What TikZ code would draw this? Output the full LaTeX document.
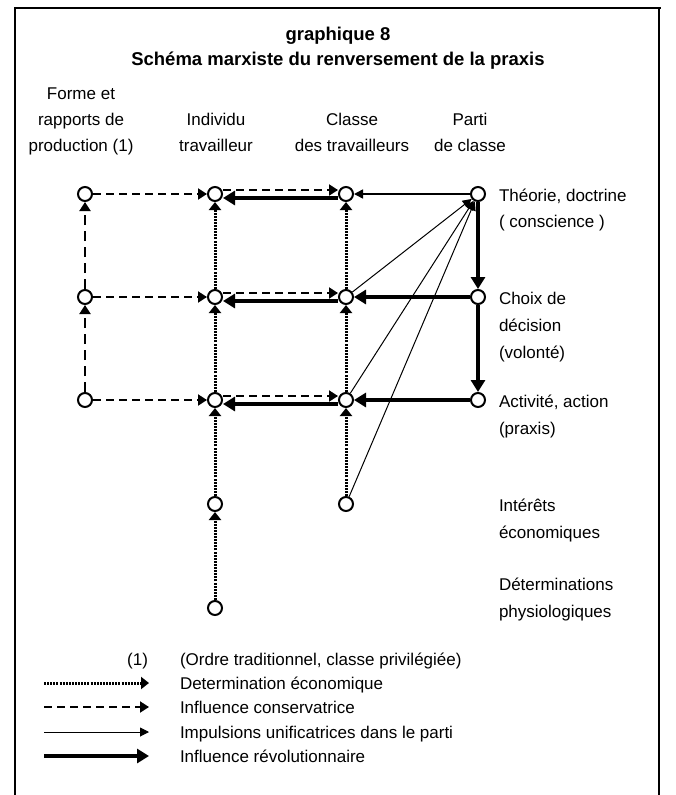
\documentclass[tikz,border=0pt]{standalone}
\usepackage{fontspec}
\setmainfont{Liberation Sans}
\usetikzlibrary{arrows.meta}

\tikzset{
  lbl/.style={font=\fontsize{17}{20}\selectfont, inner sep=0pt, outer sep=0pt},
  ttl/.style={font=\fontsize{18.5}{22}\selectfont\bfseries, inner sep=0pt, outer sep=0pt},
  stage/.style={circle, draw, line width=2pt, fill=white, minimum size=14pt, inner sep=0pt},
  frameline/.style={line width=2.2pt},
  detarr/.style={line width=3pt, dash pattern=on 2pt off 1.1pt,
    -{Triangle[length=8pt,width=12pt]}},
  conarr/.style={line width=2pt, dash pattern=on 8pt off 5pt,
    -{Triangle[length=9pt,width=11pt]}},
  longdash/.style={dash pattern=on 10pt off 6pt},
  imparr/.style={line width=1pt, -{Triangle[length=9pt,width=9pt]}},
  revarr/.style={line width=3.6pt, -{Triangle[length=12pt,width=14pt]}},
}

\begin{document}
\begin{tikzpicture}[x=1pt,y=-1pt]
\useasboundingbox (0,0) rectangle (675,795);

% frame (open at the bottom)
\coordinate (fbl) at (15,795);
\coordinate (ftl) at (15,8);
\coordinate (ftr) at (661,8);
\coordinate (frt) at (659,8);
\coordinate (frb) at (659,795);
\draw[frameline] (fbl) -- (ftl) -- (ftr);
\draw[frameline] (frt) -- (frb);

% title
\node[ttl, anchor=base] (title1) at (338,40) {graphique 8};
\node[ttl, anchor=base] (title2) at (338,65) {Schéma marxiste du renversement de la praxis};

% column headings
\node[lbl, anchor=base] (h1a) at (81,99) {Forme et};
\node[lbl, anchor=base] (h1b) at (81,125) {rapports de};
\node[lbl, anchor=base] (h1c) at (81,151) {production (1)};
\node[lbl, anchor=base] (h2a) at (216,125) {Individu};
\node[lbl, anchor=base] (h2b) at (216,151) {travailleur};
\node[lbl, anchor=base] (h3a) at (352,125) {Classe};
\node[lbl, anchor=base] (h3b) at (352,151) {des travailleurs};
\node[lbl, anchor=base] (h4a) at (470,125) {Parti};
\node[lbl, anchor=base] (h4b) at (470,151) {de classe};

% row labels
\node[lbl, anchor=base west] (r1a) at (499,201) {Théorie, doctrine};
\node[lbl, anchor=base west] (r1b) at (499,227) {( conscience )};
\node[lbl, anchor=base west] (r2a) at (499,304) {Choix de};
\node[lbl, anchor=base west] (r2b) at (499,331) {décision};
\node[lbl, anchor=base west] (r2c) at (499,358) {(volonté)};
\node[lbl, anchor=base west] (r3a) at (499,407) {Activité, action};
\node[lbl, anchor=base west] (r3b) at (499,434) {(praxis)};
\node[lbl, anchor=base west] (r4a) at (499,511) {Intérêts};
\node[lbl, anchor=base west] (r4b) at (499,538) {économiques};
\node[lbl, anchor=base west] (r5a) at (499,590) {Déterminations};
\node[lbl, anchor=base west] (r5b) at (499,617) {physiologiques};

% stages
\node[stage] (c1r1) at (85,194) {};
\node[stage] (c1r2) at (85,297) {};
\node[stage] (c1r3) at (85,400) {};
\node[stage] (c2r1) at (215,194) {};
\node[stage] (c2r2) at (215,297) {};
\node[stage] (c2r3) at (215,400) {};
\node[stage] (c2r4) at (215,504) {};
\node[stage] (c2r5) at (215,608) {};
\node[stage] (c3r1) at (346,194) {};
\node[stage] (c3r2) at (346,297) {};
\node[stage] (c3r3) at (346,400) {};
\node[stage] (c3r4) at (346,504) {};
\node[stage] (c4r1) at (478,194) {};
\node[stage] (c4r2) at (478,297) {};
\node[stage] (c4r3) at (478,400) {};

% conservative influence
\draw[conarr, longdash] (c1r3) -- (c1r2);
\draw[conarr, longdash] (c1r2) -- (c1r1);
\foreach \r in {1,2,3} {
  \draw[conarr] (c1r\r) -- (c2r\r);
  \draw[conarr] ([yshift=4pt]c2r\r.east) -- ([yshift=4pt]c3r\r.west);
  \draw[revarr] ([yshift=-4pt]c3r\r.west) -- ([yshift=-4pt]c2r\r.east);
}

% economic determination
\draw[detarr] (c2r5) -- (c2r4);
\draw[detarr] (c2r4) -- (c2r3);
\draw[detarr] (c2r3) -- (c2r2);
\draw[detarr] (c2r2) -- (c2r1);
\draw[detarr] (c3r4) -- (c3r3);
\draw[detarr] (c3r3) -- (c3r2);
\draw[detarr] (c3r2) -- (c3r1);

% revolutionary influence
\draw[revarr] (c4r1) -- (c4r2);
\draw[revarr] (c4r2) -- (c4r3);
\draw[revarr] (c4r2) -- (c3r2);
\draw[revarr] (c4r3) -- (c3r3);

% unifying impulses in the party
\draw[imparr, line width=1.5pt] (c4r1) -- (c3r1);
\draw[imparr] (c3r2) -- (c4r1);
\draw[imparr] (c3r3) -- (c4r1);
\draw[imparr] (c3r4) -- (c4r1);

% legend
\node[lbl, anchor=base east] (k0) at (148,665) {(1)};
\node[lbl, anchor=base west] (t0) at (180,665) {(Ordre traditionnel, classe privilégiée)};
\coordinate (k1a) at (44,683);  \coordinate (k1b) at (149,683);
\coordinate (k2a) at (44,707);  \coordinate (k2b) at (149,707);
\coordinate (k3a) at (44,732);  \coordinate (k3b) at (149,732);
\coordinate (k4a) at (44,756);  \coordinate (k4b) at (149,756);
\draw[detarr] (k1a) -- (k1b);
\draw[conarr] (k2a) -- (k2b);
\draw[imparr] (k3a) -- (k3b);
\draw[revarr] (k4a) -- (k4b);
\node[lbl, anchor=base west] (t1) at (180,689) {Determination économique};
\node[lbl, anchor=base west] (t2) at (180,713) {Influence conservatrice};
\node[lbl, anchor=base west] (t3) at (180,738) {Impulsions unificatrices dans le parti};
\node[lbl, anchor=base west] (t4) at (180,762) {Influence révolutionnaire};
\end{tikzpicture}
\end{document}
